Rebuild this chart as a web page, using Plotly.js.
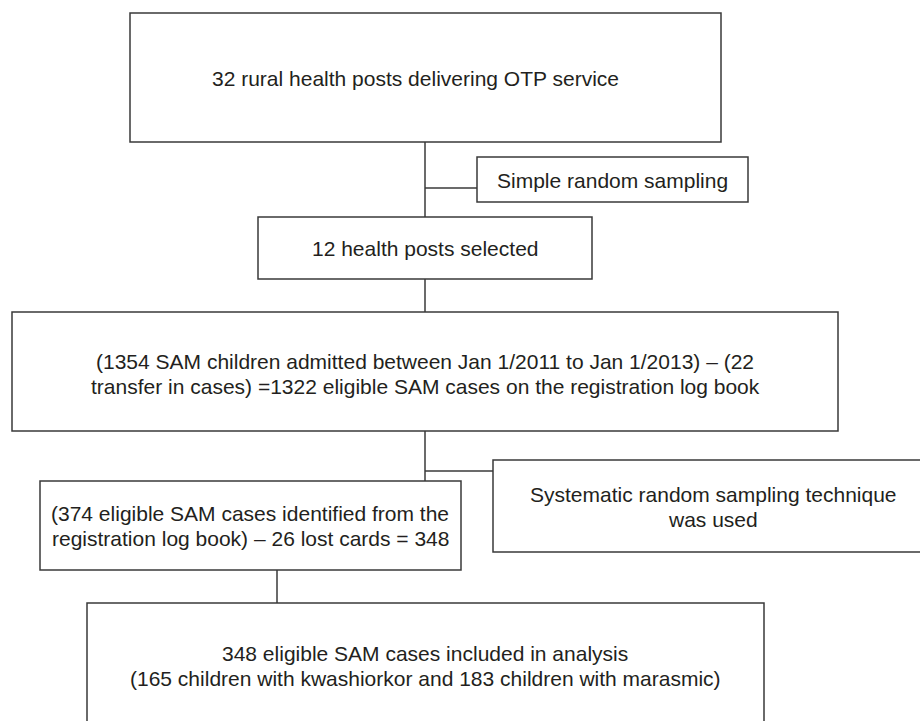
<!DOCTYPE html>
<html>
<head>
<meta charset="utf-8">
<script src="https://cdn.plot.ly/plotly-3.0.1.min.js"></script>
<style>html,body{margin:0;padding:0;background:#fff;}#chart{width:920px;height:721px;}</style>
</head>
<body>
<div id="chart"></div>
<script>
// Flowchart text content
var box1Lines = ["32 rural health posts delivering OTP service"];
var sideBox1Lines = ["Simple random sampling"];
var box2Lines = ["12 health posts selected"];
var box3Lines = ["(1354 SAM children admitted between Jan 1/2011 to Jan 1/2013) – (22",
                 "transfer in cases) =1322 eligible SAM cases on the registration log book"];
var sideBox2Lines = ["Systematic random sampling technique", "was used"];
var box4Lines = ["(374 eligible SAM cases identified from the",
                 "registration log book) – 26 lost cards = 348"];
var box5Lines = ["348 eligible SAM cases included in analysis",
                 "(165 children with kwashiorkor and 183 children with marasmic)"];

// Layout geometry (pixels, y downward)
var boxes = [
  {x0:130, x1:721, y0:13,  y1:142, tx:415, ty:[78],       lines:box1Lines},
  {x0:477, x1:748, y0:157, y1:202, tx:612, ty:[180],      lines:sideBox1Lines},
  {x0:258, x1:592, y0:217, y1:279, tx:425, ty:[248],      lines:box2Lines},
  {x0:12,  x1:838, y0:312, y1:431, tx:425, ty:[361,386],  lines:box3Lines},
  {x0:493, x1:940, y0:460, y1:552, tx:713, ty:[494,519],  lines:sideBox2Lines},
  {x0:40,  x1:461, y0:481, y1:570, tx:250, ty:[513,538],  lines:box4Lines},
  {x0:87,  x1:764, y0:603, y1:740, tx:425, ty:[653,678],  lines:box5Lines}
];
var connectors = [
  [425,142,425,217],
  [425,188,477,188],
  [425,279,425,312],
  [425,431,425,481],
  [425,471,493,471],
  [277,570,277,603]
];

var lineStyle = {color:'#3a3a3a', width:1.5};
var shapes = [];
var annotations = [];
boxes.forEach(function(b){
  shapes.push({type:'rect', xref:'x', yref:'y', x0:b.x0, x1:b.x1, y0:b.y0, y1:b.y1,
               line:lineStyle, fillcolor:'rgba(0,0,0,0)', layer:'above'});
  b.lines.forEach(function(t,i){
    annotations.push({x:b.tx, y:b.ty[i], xref:'x', yref:'y', text:t, showarrow:false,
      xanchor:'center', yanchor:'middle',
      font:{family:'Liberation Sans, Arial, Helvetica, sans-serif', size:21, color:'#231f20'}});
  });
});
connectors.forEach(function(c){
  shapes.push({type:'line', xref:'x', yref:'y', x0:c[0], y0:c[1], x1:c[2], y1:c[3], line:lineStyle});
});

var layout = {
  width:920, height:721,
  margin:{l:0, r:0, t:0, b:0, pad:0},
  paper_bgcolor:'#ffffff', plot_bgcolor:'#ffffff',
  xaxis:{range:[0,920], visible:false, fixedrange:true},
  yaxis:{range:[721,0], visible:false, fixedrange:true},
  showlegend:false,
  shapes:shapes,
  annotations:annotations
};
Plotly.newPlot('chart', [{x:[], y:[], type:'scatter', mode:'markers', hoverinfo:'skip'}], layout, {displayModeBar:false, staticPlot:true});
</script>
</body>
</html>
